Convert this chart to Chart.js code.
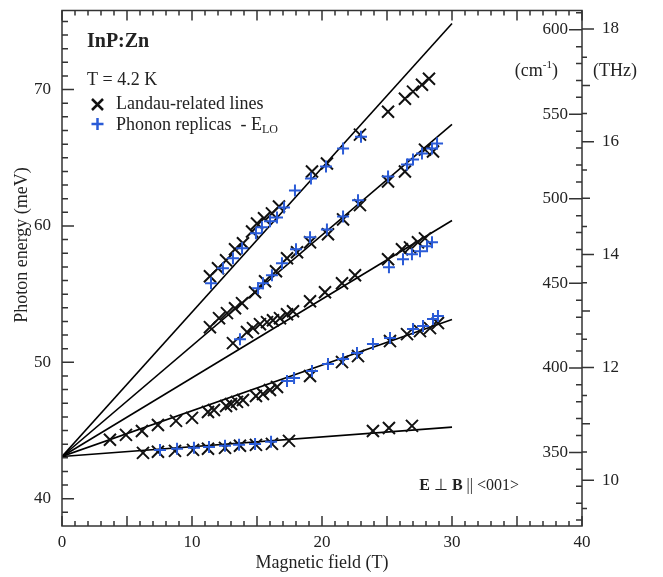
<!DOCTYPE html>
<html>
<head>
<meta charset="utf-8">
<script src="https://cdn.jsdelivr.net/npm/chart.js@4"></script>
<style>
html,body{margin:0;padding:0;background:#fff;}
#wrap{position:relative;width:663px;height:577px;}
</style>
</head>
<body>
<div id="wrap"><canvas id="c" width="663" height="577"></canvas></div>
<script>
// ---- tick labels ----
const fieldTicks = [0, 10, 20, 30, 40];
const energyTicks = [40, 50, 60, 70];
const wavenumberTicks = [350, 400, 450, 500, 550, 600];
const terahertzTicks = [10, 12, 14, 16, 18];

// ---- fan of fitted lines: common origin at B = 0, end at B = 30 T ----
const fanOriginEnergy = 43.1;
const fanEndField = 30;
const fanEndEnergy = [74.85, 67.45, 60.4, 53.15, 45.25];

// ---- Landau-related lines (black x) : [B (T), E (meV)] ----
const landau1 = [[11.38,56.31],[12.0,56.90],[12.62,57.48],[13.31,58.29],[13.92,58.73],[14.62,59.60],[15.0,60.18],[15.54,60.56],[16.15,60.92],[16.69,61.43],[19.23,63.99],[20.38,64.58],[22.92,66.70],[25.08,68.38],[26.38,69.33],[27.0,69.85],[27.69,70.36],[28.23,70.80]];
const landau2 = [[11.38,52.58],[12.08,53.24],[12.69,53.61],[13.31,53.97],[13.85,54.34],[14.85,55.14],[15.62,55.95],[16.46,56.68],[17.31,57.63],[18.08,58.07],[19.08,58.80],[20.46,59.39],[21.62,60.48],[22.92,61.53],[25.08,63.26],[26.38,63.99],[27.92,65.60],[28.54,65.46]];
const landau3 = [[13.15,51.41],[14.23,52.22],[14.69,52.51],[15.23,52.80],[15.77,52.95],[16.23,53.09],[16.77,53.24],[17.31,53.53],[17.77,53.75],[19.08,54.48],[20.23,55.14],[21.54,55.80],[22.54,56.39],[25.08,57.56],[26.15,58.29],[26.77,58.43],[27.38,58.80],[27.92,59.09]];
const landau4 = [[3.69,44.32],[4.92,44.68],[6.15,44.97],[7.38,45.41],[8.77,45.71],[10.0,45.93],[11.23,46.36],[11.69,46.51],[12.62,46.80],[13.0,46.95],[13.46,47.10],[13.92,47.24],[14.92,47.53],[15.46,47.68],[16.0,47.97],[16.54,48.19],[19.08,49.0],[21.54,50.02],[22.77,50.46],[25.23,51.56],[26.54,52.07],[27.54,52.29],[28.31,52.51],[28.92,52.88]];
const landau5 = [[6.23,43.36],[7.38,43.44],[8.69,43.51],[10.08,43.58],[11.23,43.66],[12.54,43.73],[13.69,43.88],[14.92,43.95],[16.15,44.02],[17.46,44.24],[23.92,44.97],[25.15,45.19],[26.92,45.34]];

// ---- Phonon replicas - E_LO (blue +) : [B (T), E (meV)] ----
const phonon1 = [[11.46,55.80],[12.38,56.90],[13.15,57.63],[13.85,58.36],[14.92,59.46],[15.38,59.90],[16.0,60.34],[16.54,60.63],[17.08,61.36],[17.92,62.60],[19.15,63.48],[20.31,64.36],[21.62,65.68],[23.0,66.55]];
const phonon2 = [[15.08,55.44],[15.46,55.80],[16.15,56.39],[16.92,57.26],[18.0,58.29],[19.08,59.17],[20.38,59.75],[21.62,60.70],[22.77,61.88],[25.08,63.63],[26.54,64.51],[27.0,64.87],[27.69,65.31],[28.46,65.68],[28.85,66.04]];
const phonon3 = [[13.69,51.70],[25.15,56.97],[26.23,57.56],[26.92,57.92],[27.54,58.15],[28.08,58.51],[28.46,58.80]];
const phonon4 = [[17.31,48.63],[17.85,48.85],[19.23,49.36],[20.46,49.88],[21.62,50.24],[22.69,50.68],[23.92,51.34],[25.23,51.78],[27.0,52.44],[27.77,52.66],[28.54,53.17],[28.92,53.39]];
const phonon5 = [[7.54,43.58],[8.85,43.66],[10.15,43.73],[11.31,43.80],[12.54,43.88],[13.62,43.95],[14.85,44.02],[16.08,44.17]];

// ---- axis ranges & unit conversion ----
const energyMin = 38, energyMax = 75.8;
const fieldMin = 0, fieldMax = 40;
const meVtoWavenumber = 8.065544;
const meVperTHz = 4.135667;

const serif = "'Liberation Serif', 'Times New Roman', serif";
const blue = '#2a5bd7';
const ink = '#222';
const toXY = arr => arr.map(p => ({x: p[0], y: p[1]}));

const landauAll = [...landau1, ...landau2, ...landau3, ...landau4, ...landau5];
const phononAll = [...phonon1, ...phonon2, ...phonon3, ...phonon4, ...phonon5];

const datasets = [
  {label: 'Phonon replicas - E_LO', data: toXY(phononAll), pointStyle: 'cross', pointRadius: 6, pointBorderWidth: 2,
   borderColor: blue, backgroundColor: blue, showLine: false, order: 1},
  {label: 'Landau-related lines', data: toXY(landauAll), pointStyle: 'crossRot', pointRadius: 8.5, pointBorderWidth: 2,
   borderColor: '#111', backgroundColor: '#111', showLine: false, order: 2}
];
fanEndEnergy.forEach((e, i) => {
  datasets.push({label: 'fit ' + (i + 1), data: [{x: 0, y: fanOriginEnergy}, {x: fanEndField, y: e}],
    showLine: true, pointRadius: 0, borderColor: '#000', borderWidth: 1.6, order: 3});
});

const setTicks = vals => (s => { s.ticks = vals.map(v => ({value: v})); });

const frameTicks = {
  id: 'frameTicks',
  afterDraw(chart) {
    const {ctx, chartArea: a, scales: s} = chart;
    ctx.save();
    ctx.strokeStyle = '#333';
    ctx.lineWidth = 1.5;
    ctx.strokeRect(a.left, a.top, a.right - a.left, a.bottom - a.top);
    ctx.beginPath();
    // magnetic field ticks, bottom and top, inward
    for (let v = fieldMin; v <= fieldMax; v += 1) {
      const px = s.x.getPixelForValue(v);
      const L = (v % 5 === 0) ? 10 : 5;
      ctx.moveTo(px, a.bottom); ctx.lineTo(px, a.bottom - L);
      ctx.moveTo(px, a.top); ctx.lineTo(px, a.top + L);
    }
    // energy ticks, left, inward
    for (let v = 39; v <= 75; v += 1) {
      const py = s.y.getPixelForValue(v);
      const L = (v % 10 === 0) ? 12 : 6;
      ctx.moveTo(a.left, py); ctx.lineTo(a.left + L, py);
    }
    // wavenumber ticks, right, inward
    for (let v = 310; v <= 610; v += 10) {
      const py = s.ycm.getPixelForValue(v);
      const L = (v % 50 === 0) ? 13 : 6;
      ctx.moveTo(a.right, py); ctx.lineTo(a.right - L, py);
    }
    // THz ticks, right, outward
    for (let v = 9.5; v <= 18.3; v += 0.5) {
      const py = s.ythz.getPixelForValue(v);
      const L = (Math.abs(v % 2) < 1e-6) ? 12 : (Math.abs(v % 1) < 1e-6 ? 8 : 5);
      ctx.moveTo(a.right, py); ctx.lineTo(a.right + L, py);
    }
    ctx.stroke();

    // ---- axis title (left) ----
    ctx.fillStyle = ink;
    ctx.save();
    ctx.translate(22, 245);
    ctx.rotate(-Math.PI / 2);
    ctx.textAlign = 'center';
    ctx.textBaseline = 'middle';
    ctx.font = '18px ' + serif;
    ctx.fillText('Photon energy (meV)', 0, 0);
    ctx.restore();

    // ---- annotations & legend ----
    ctx.textBaseline = 'middle';
    ctx.textAlign = 'left';
    ctx.font = 'bold 20px ' + serif;
    ctx.fillText('InP:Zn', 87, 42);
    ctx.font = '18px ' + serif;
    ctx.fillText('T = 4.2 K', 87, 80);

    // legend markers
    ctx.lineWidth = 2.5;
    ctx.strokeStyle = '#111';
    ctx.beginPath();
    ctx.moveTo(92, 99); ctx.lineTo(103, 110);
    ctx.moveTo(103, 99); ctx.lineTo(92, 110);
    ctx.stroke();
    ctx.strokeStyle = blue;
    ctx.beginPath();
    ctx.moveTo(97.5, 118); ctx.lineTo(97.5, 130);
    ctx.moveTo(91.5, 124); ctx.lineTo(103.5, 124);
    ctx.stroke();

    ctx.font = '18px ' + serif;
    ctx.fillText('Landau-related lines', 116, 104);
    const t2 = 'Phonon replicas  - E';
    ctx.fillText(t2, 116, 125);
    const w2 = ctx.measureText(t2).width;
    ctx.font = '12px ' + serif;
    ctx.fillText('LO', 116 + w2, 130);

    // field/polarisation note, right-aligned at x = 519
    const parts = [['E', 'bold 16px '], [' \u22A5 ', '16px '], ['B', 'bold 16px '], [' || <001>', '16px ']];
    let total = 0;
    parts.forEach(p => { ctx.font = p[1] + serif; total += ctx.measureText(p[0]).width; });
    let x = 519 - total;
    const yb = 486;
    parts.forEach(p => { ctx.font = p[1] + serif; ctx.fillText(p[0], x, yb); x += ctx.measureText(p[0]).width; });

    // unit labels on right axes
    ctx.font = '18px ' + serif;
    const c1 = '(cm', c2 = ')';
    const w1 = ctx.measureText(c1).width;
    const wc = ctx.measureText(c2).width;
    ctx.font = '11px ' + serif;
    const ws = ctx.measureText('-1').width;
    const cx = 558 - (w1 + ws + wc);
    ctx.font = '18px ' + serif;
    ctx.fillText(c1, cx, 71);
    ctx.font = '11px ' + serif;
    ctx.fillText('-1', cx + w1, 65);
    ctx.font = '18px ' + serif;
    ctx.fillText(c2, cx + w1 + ws, 71);
    ctx.fillText('(THz)', 593, 71);
    ctx.restore();
  }
};

const tickFont = {family: serif, size: 17};
const noGrid = {display: false, drawTicks: false, tickLength: 0};

new Chart(document.getElementById('c'), {
  type: 'scatter',
  data: {datasets},
  options: {
    responsive: false,
    animation: false,
    devicePixelRatio: 1,
    layout: {padding: {top: 8, left: 0, right: 0, bottom: 0}},
    plugins: {legend: {display: false}, tooltip: {enabled: false}},
    scales: {
      x: {
        type: 'linear', position: 'bottom', min: fieldMin, max: fieldMax,
        afterBuildTicks: setTicks(fieldTicks),
        ticks: {font: tickFont, color: ink, padding: 6, maxRotation: 0, autoSkip: false},
        grid: noGrid, border: {display: false},
        title: {display: true, text: 'Magnetic field (T)', font: {family: serif, size: 18}, color: ink, padding: {top: 0, bottom: 3}},
        afterFit: s => { s.height = 51; s.paddingLeft = 0; s.paddingRight = 0; }
      },
      y: {
        type: 'linear', position: 'left', min: energyMin, max: energyMax,
        afterBuildTicks: setTicks(energyTicks),
        ticks: {font: tickFont, color: ink, padding: 11, autoSkip: false},
        grid: noGrid, border: {display: false},
        afterFit: s => { s.width = 62; s.paddingTop = 0; s.paddingBottom = 0; }
      },
      ycm: {
        type: 'linear', position: 'right', weight: 0,
        min: energyMin * meVtoWavenumber, max: energyMax * meVtoWavenumber,
        afterBuildTicks: setTicks(wavenumberTicks),
        ticks: {font: tickFont, color: ink, mirror: true, padding: -14, autoSkip: false},
        grid: noGrid, border: {display: false},
        afterFit: s => { s.width = 0; s.paddingTop = 0; s.paddingBottom = 0; }
      },
      ythz: {
        type: 'linear', position: 'right', weight: 1,
        min: energyMin / meVperTHz, max: energyMax / meVperTHz,
        afterBuildTicks: setTicks(terahertzTicks),
        ticks: {font: tickFont, color: ink, padding: 20, autoSkip: false},
        grid: noGrid, border: {display: false},
        afterFit: s => { s.width = 81; s.paddingTop = 0; s.paddingBottom = 0; }
      }
    }
  },
  plugins: [frameTicks]
});
</script>
</body>
</html>
